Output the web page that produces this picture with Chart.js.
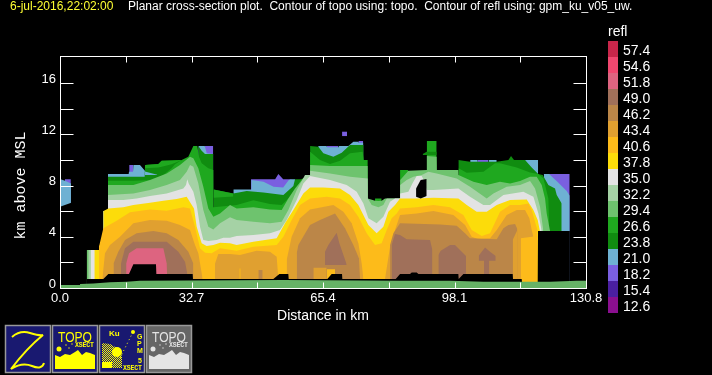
<!DOCTYPE html>
<html><head><meta charset="utf-8">
<style>html,body{margin:0;padding:0;background:#000;width:712px;height:375px;overflow:hidden}
canvas{position:absolute;left:0;top:0}svg{position:absolute;left:0;top:0}</style>
<script src="https://cdn.jsdelivr.net/npm/chart.js@4"></script></head><body>
<canvas id="c" width="712" height="375"></canvas>
<svg width="712" height="375" font-family="Liberation Sans">
<defs>
<pattern id="chk" width="2" height="2" patternUnits="userSpaceOnUse"><rect width="1" height="1" fill="#ff0"/><rect x="1" y="1" width="1" height="1" fill="#ff0"/></pattern>
<g id="topo"><text x="58" y="342" font-size="14" textLength="34" lengthAdjust="spacingAndGlyphs">TOPO</text>
<text x="75" y="347" font-size="6.5" font-weight="bold" font-family="Liberation Mono" textLength="19">XSECT</text>
<path d="M55 369V355L60 357L65 354L70 355L75 352L78 350L82 355L86 352L90 353L95 355V369Z"/>
<circle cx="59" cy="349" r="2.5"/><circle cx="66" cy="345" r=".7"/><circle cx="69" cy="348" r=".7"/><circle cx="72" cy="344" r=".7"/></g>
</defs>
<rect x="5.5" y="325.5" width="45" height="47" fill="#191970" stroke="#999" stroke-width="1.5"/>
<path d="M12 337Q20 330 30 333T43 335Q27 348 11 369Q22 362 32 366T44 363" fill="none" stroke="#ff0" stroke-width="2"/>
<rect x="52.5" y="325.5" width="45" height="47" fill="#191970" stroke="#999" stroke-width="1.5"/>
<use href="#topo" fill="#ff0"/>
<rect x="99.5" y="325.5" width="45" height="47" fill="#191970" stroke="#999" stroke-width="1.5"/>
<text x="109" y="336" font-size="8" fill="#ff0" font-weight="bold">Ku</text>
<text x="137" y="339" font-size="7" fill="#ff0" font-weight="bold">G</text>
<text x="137" y="346" font-size="7" fill="#ff0" font-weight="bold">P</text>
<text x="137" y="353" font-size="7" fill="#ff0" font-weight="bold">M</text>
<text x="138" y="363" font-size="7" fill="#ff0" font-weight="bold">5</text>
<text x="123" y="370" font-size="6.5" font-weight="bold" font-family="Liberation Mono" fill="#ff0" textLength="19">XSECT</text>
<path d="M102 368V343L110 344L117 348L122 356L122 368Z" fill="url(#chk)"/><circle cx="117" cy="352" r="5" fill="#ff0"/><rect x="102" y="362" width="10" height="6" fill="#ff0"/>
<path d="M120 358L133 332" stroke="#ff0" stroke-dasharray="1 3"/><circle cx="133" cy="332" r="2" fill="#ff0"/>
<rect x="146.5" y="325.5" width="45" height="47" fill="#666" stroke="#999" stroke-width="1.5"/>
<use href="#topo" x="94" fill="#e4e4e4"/>
</svg>
<script>
// reflectivity colour key
const legendLabels=["57.4","54.6","51.8","49.0","46.2","43.4","40.6","37.8","35.0","32.2","29.4","26.6","23.8","21.0","18.2","15.4","12.6"];
const legendColors=["#c8264a","#f0476f","#dd6480","#a0705a","#bb8648","#e0a030","#fdbb1a","#fcdc0a","#e3e3e3","#a5d2a5","#6ec36e","#1fa81f","#108c10","#6eb1d3","#7a5fe0","#4a1fa0","#8a0f8f"];
const topoColor="#66b266";
const xTicksKm=16.35, xMaxKm=130.8, yMaxKm=18.125;
// each level: list of segments of [distance km, top height km]
const refl182=[
[[1.2,8.49],[2.7,8.49]],[[17.2,9.6],[18.2,9.6]],[[36,11.09],[38.1,11.09]],
[[47.5,8.49],[53.5,8.49],[54.3,8.9],[55.5,8.49],[57.6,8.49]],
[[66.3,11.09],[69.2,11.09]],[[74.2,11.48],[75.4,11.48]],[[103.8,10],[106.5,10]],[[121.6,8.9],[126.75,8.9]]];
const speck182=[[70.15,12.21],[71.39,12.21]];
const speck182Base=[11.87];
const refl210=[
[[0.16,8.49],[1.24,8.38],[2.73,8.17]],
[[11.93,8.9],[17.07,8.9],[17.16,9.09],[18.15,9.09],[18.24,9.6],[19.89,9.6],[21.22,9.12]],
[[34.4,11.09],[36,11.09],[36.5,10.52],[38.1,10.47]],
[[43.1,7.7],[47.5,7.7],[47.6,8.43],[50.6,8.3],[53.1,7.91],[55.5,7.86],[56.9,8.43],[57.6,8.49],[58.44,8.49]],
[[64.2,11.09],[66.3,11.09],[66.4,10.99],[69.2,10.99],[69.3,11.09],[71.7,11.09],[72.95,11.43],[74.2,11.43],[74.3,11.35],[75.44,11.35]],
[[102,10],[103.8,10],[103.9,9.81],[106.5,9.81],[106.6,10],[108.6,10]],
[[115.64,10],[118.9,10]],
[[120.29,8.9],[121.61,8.9],[123.68,8.3],[126,7.57],[126.75,7.21]]];
const refl238=[
[[11.93,8.69],[21.05,8.69],[21.14,9.6],[24.45,9.68],[25.28,9.94],[30.26,10]],
[[34.4,11.09],[35.23,10.73],[36.06,10.47],[38.13,10.47]],
[[38.17,7.7],[43.1,7.39],[46.42,7.57],[50.57,7.47],[55.54,7.26],[58.03,7.97],[58.44,8.49],[59.93,8.49],[62.17,8.82],[62.2,11.09],[64.24,11.04],[65.49,10.52],[67.98,10.26],[70.05,10.57],[72.12,11.17],[75.44,11.17],[75.48,10],[76.51,10]],
[[99.06,10],[101.96,9.87],[108.6,9.87],[111.5,10],[112.16,10.31],[112.9,10],[115.64,10],[117.3,9.42],[118.79,8.95],[118.87,8.9],[120.04,8.82],[121.44,8.04],[123.1,7.78],[123.52,7.26],[124.76,6.61]]];
const refl266=[
[[11.93,8.38],[18.24,8.38],[24.04,8.43],[25.7,8.82],[27.77,9.35],[28.6,9.66],[30.26,10],[31.91,10.26],[33.16,11.09],[34.15,11.09],[34.57,10.26],[35.23,9.74],[36.89,9.35],[38.13,9.22],[38.17,6.3],[43.93,6.48],[48.08,6.85],[52.22,6.56],[55.13,6.48],[57.61,7.26],[59.93,8.43],[62.17,8.82],[62.2,10.65],[64.66,10],[67.15,9.68],[69.63,9.94],[72.12,10.52],[75.27,10.65],[75.5,10],[76.51,10]],
[[78.34,7],[79.99,7]],[[84.56,9.22],[86.63,9.22]],[[91.19,11.48],[93.67,11.48]],
[[99.1,9.35],[101.14,9],[105.28,9.09],[108.18,9.74],[109.4,9.74],[113.57,9.42],[116.89,9.03],[118.96,8.9],[120.2,8.56],[120.62,8.04],[121.44,7],[121.7,4.45]]];
// pockets that sit above a stronger band
const pocket266Top=[[21.14,9.6],[24.45,9.68],[25.28,9.94],[27.77,9.97],[30.26,10]];
const pocket266Bot=[[21.14,9.35],[24.45,9.42],[25.28,9.48],[27.77,9.66],[30.26,10]];
const pocket266bTop=[[38.17,7.7],[43.1,7.39]];
const pocket266bBot=[[38.17,7.05],[43.1,7.15]];
const pocket210Top=[[21.14,9.1],[24.2,8.85]];
const pocket210Bot=[[21.14,8.82],[24.2,8.82]];
const pocket238Top=[[90.19,10.47],[91.19,10.65],[93.67,10.65]];
const pocket238Bot=[[90.19,10.4],[91.19,10.39],[93.67,10.39]];
const refl294=[[[6.63,2.97],[9.7,2.97],[9.95,3.36],[10.77,3.36],[10.82,6.01],[11.85,6.01],[11.93,8.04],[18.24,8.04],[22.38,8.43],[26.53,8.95],[29.84,9.6],[32.33,10.26],[33.16,10.13],[34.4,9.35],[35.64,7.91],[36.89,6.22],[38.13,5.57],[39.79,5.83],[42.28,6.48],[43.93,6.22],[48.08,6.3],[52.22,6.14],[55.13,6.09],[56.78,7],[58.44,7.78],[60.51,8.56],[62.17,8.82],[62.2,9.6],[67.15,9.53],[72.12,9.53],[76.51,9.53],[76.55,7],[78.34,6.82],[79.17,6.79],[79.99,6.82],[80.82,7],[84.56,7],[84.6,8.43],[86.63,9.16],[91.19,9.22],[91.23,10.31],[93.67,10.26],[93.71,9.22],[99.06,9.22],[99.1,8.82],[102.8,8.3],[106.11,8.04],[109.4,8.3],[111.91,8.17],[114.4,8.36],[116.89,8.69],[118.54,8.69],[119.79,8.04],[120.62,7],[121.03,5.83],[121.86,4.45]]];
const refl322=[[[7.04,2.97],[9.7,2.97],[9.95,3.36],[10.77,3.36],[10.82,6.01],[11.85,6.01],[11.93,7.26],[18.24,7.39],[22.38,7.65],[26.53,8.04],[29.84,8.43],[31.5,9.09],[32.33,9.6],[33.16,9.48],[34.4,8.17],[35.64,6.09],[36.89,4.79],[38.13,4.58],[39.79,5.05],[42.28,5.52],[43.93,5.31],[48.08,5.18],[52.22,5.05],[55.13,5.18],[56.78,6.09],[58.86,7.65],[60.93,8.82],[62.17,8.82],[62.2,9.16],[67.15,8.95],[72.12,8.69],[76.51,8.56],[76.55,7],[77.51,6.48],[79.17,6.3],[80.41,6.48],[81.24,7],[84.56,7],[84.6,8.04],[86.21,8.43],[87.87,8.69],[89.94,8.82],[91.6,9.09],[93.67,8.95],[98.65,8.56],[101.96,7.91],[106.11,7],[107.77,7.39],[111.08,7.91],[114.4,8.04],[116.89,8.36],[118.13,7.78],[119.37,6.35],[120.2,4.45]]];
const refl350=[[[7.62,2.97],[9.7,2.97],[9.95,3.36],[10.77,3.36],[10.82,6.01],[11.85,6.01],[11.93,6.87],[15.75,6.87],[19.06,7],[22.38,7.18],[26.53,7.39],[30.67,7.78],[31.33,8.04],[31.66,8.49],[32,8.17],[33.16,7.52],[33.99,6.48],[34.82,4.79],[35.64,3.75],[36.89,3.67],[38.96,3.75],[40.62,3.93],[42.28,3.93],[43.93,4.06],[48.08,4.14],[52.22,4.27],[54.71,4.53],[56.37,5.31],[58.86,6.87],[60.51,8.17],[62.17,8.75],[67.15,8.43],[71.29,8.04],[73.78,7.52],[75.44,6.61],[76.68,5.44],[78.75,5.05],[80.41,5.57],[82.07,6.74],[83.31,7],[84.56,7],[84.6,7.39],[86.63,7.52],[87.63,8.17],[88.7,8.75],[89.94,8.75],[90.36,8.49],[91.19,7.65],[92.84,7.65],[99.06,7.78],[101.96,7.13],[105.28,6.48],[106.94,6.48],[110.26,7.26],[115.23,7.52],[117.72,7.13],[118.96,5.83],[119.79,4.45]]];
const refl378=[[[8.54,2.97],[9.7,2.97],[9.95,3.36],[10.77,3.36],[10.82,6.01],[12.02,6.22],[15.75,6.3],[18.24,6.48],[22.38,6.66],[25.7,6.82],[29.01,6.95],[31.5,7.13],[33.32,6.22],[33.99,4.79],[35.23,3.49],[36.47,3.28],[38.13,3.36],[39.79,3.54],[42.28,3.49],[43.93,3.36],[48.08,3.62],[53.88,3.88],[55.95,5.05],[58.03,6.09],[60.51,7.39],[62.17,7.86],[65.49,7.86],[69.63,7.78],[72.12,7.26],[74.19,6.48],[76.68,4.92],[78.75,4.27],[80.41,4.79],[81.65,5.96],[83.31,6.48],[84.56,7],[88.7,7],[92.84,7.05],[99.06,7],[101.14,6.48],[103.62,5.96],[106.11,5.96],[108.6,6.48],[111.91,6.87],[116.06,6.92],[117.72,6.09],[118.79,5.31],[119.37,4.4]]];
const refl406=[[[9.7,3.23],[10.77,4.66],[14.09,5.26],[17.41,5.91],[22.38,6.14],[26.53,6.04],[30.67,6.3],[32.33,6.22],[33.57,4.79],[34.82,3.1],[36.06,2.76],[37.72,2.71],[39.79,3.1],[43.93,2.91],[48.08,3.23],[53.88,3.36],[55.54,4.01],[57.61,5.31],[59.69,6.48],[62.17,7],[66.32,7.13],[69.63,7],[72.12,6.48],[74.19,5.57],[76.27,4.27],[78.34,3.36],[79.99,3.49],[81.24,4.53],[82.48,5.44],[83.73,5.83],[84.56,6.22],[88.7,6.3],[92.84,6.48],[96.99,6.3],[100.31,5.7],[102.38,4.53],[104.87,4.06],[106.94,4.27],[109.42,5.96],[111.91,6.48],[114.4,6.48],[116.47,6.61],[117.3,6.09],[118.13,5.18],[118.71,4.53],[118.79,4.06]]];
const refl434=[
[[10.53,0.7],[11.19,2.71],[12.43,3.36],[14.92,4.01],[18.24,5.05],[22.38,5.31],[26.53,5.26],[29.84,4.92],[32.33,4.53],[33.57,3.36],[34.4,2.71],[35.48,0.7]],
[[38.55,1.92],[39.37,2.65],[42.28,2.65],[44.76,2.57],[48.91,2.91],[52.22,2.84],[53.88,2.45],[54.3,0.7]],
[[56.37,2.18],[57.61,4.01],[59.69,5.44],[62.17,6.14],[67.98,6.48],[70.46,5.96],[72.53,5.05],[74.19,3.49],[75.02,1.92],[75.44,0.7]],
[[80.82,0.7],[82.07,3.23],[83.31,4.53],[84.56,5.7],[88.7,5.83],[92.84,6.01],[97.82,5.7],[100.72,4.92],[102.38,4.01],[104.04,3.8],[106.94,3.88],[108.6,4.53],[111.08,5.7],[113.57,6.09],[115.64,6.09],[116.72,5.44],[117.3,4.53],[117.72,4]]];
const refl462=[
[[13.3,1.92],[14.5,2.84],[16.16,3.75],[19.06,4.27],[23.21,4.45],[26.53,4.27],[29.43,3.75],[31.91,2.84],[33.16,1.92]],
[[49.32,1.4],[50.4,1.4]],
[[58.86,2.71],[59.27,3.36],[62.17,4.92],[64.66,5.31],[68.39,5.83],[70.88,4.66],[72.95,3.36],[74.36,2.31],[74.61,0.7]],
[[82.07,3.36],[82.9,4.27],[84.56,5.05],[94.5,4.97],[98.65,4.87],[100.72,4.27],[101.96,3.88],[108.6,3.8],[110.26,4.66],[111.5,4.92],[113.16,5],[113.73,4.61]]];
// patches of weaker echo inside a stronger band
const patch434=[[[112.57,3.75],[113.73,4.53]],[[63,1.59],[66.32,1.59]]];
const patch406=[[[114.57,3.88],[118.79,4.06]],[[44.6,1.53],[44.93,1.53]],[[66.32,1.46],[68.4,1.46]]];
const refl490=[
[[15.17,1.92],[16.16,3.1],[18.24,3.62],[26.53,3.62],[29.43,2.84],[31.08,2.05],[31.66,1.09]],
[[82.48,3.36],[83.31,4.22],[84.56,4.14],[86.21,3.8],[92.02,3.75],[92.6,2.97]],
[[94.09,2.57],[94.67,2.91],[96.99,3.36],[98.23,3.36],[99.47,2.97],[100.96,2.5]],
[[105.44,2.3],[106.77,2.3]]];
const island490A=[[65.9,2.84],[66.73,3.36],[68.8,4.32],[69.47,3.49],[70.05,2.97],[71.29,1.84]];
const island490ABase=[1.79];
const island490B=[[104.12,2.52],[104.87,2.84],[105.69,3.17],[106.94,2.84],[108.35,2.5]];
const island490BBase=[2.13];
const refl518=[[[16.45,1.92],[17.16,2.71],[19.06,3.1],[25.7,3.1],[26.53,1.92],[26.61,1.09]]];
// no-echo region beneath the radar data
const noEcho=[
[[0,6.35],[2.8,6.66]],
[[6.6,0.7],[10.77,0.7],[12.02,1.09],[17.16,1.09],[18.24,1.85],[23.87,1.85],[23.96,1.09],[32.99,1.09],[33.07,0.7],[53.05,0.7],[54.55,1.09],[56.78,1.09],[56.87,0.7],[66.48,0.7],[67.56,1.09],[70.13,1.09],[70.21,0.7],[83.48,0.7],[84.56,1.09],[87.04,1.09],[87.46,1.22],[88.7,1.22],[89.12,1.09],[99.06,1.09],[99.14,0.7],[100.31,1.09],[112.57,1.09],[112.65,0.7],[114.81,0.7],[114.9,0.41],[118.79,0.41],[118.87,4.45],[126.8,4.45]]];
const holeTop=[[88.54,7.78],[89.69,8.43],[91.19,8.51]];
const holeBot=[[88.54,7.13],[89.69,7],[91.19,7.18]];
const topo=[[0,0.23],[4.97,0.23],[5.01,0.31],[8.29,0.36],[12.43,0.44],[16.58,0.49],[19.89,0.57],[55.54,0.62],[84.56,0.57],[96.99,0.57],[105.28,0.49],[113.57,0.49],[121.86,0.49],[128.5,0.57],[130.8,0.57]];

const col=l=>legendColors[legendLabels.indexOf(l)];
const paint=[];
function band(data,color,fill){paint.push({data,backgroundColor:color,borderWidth:0,pointRadius:0,tension:0,fill:fill===undefined?"origin":fill,spanGaps:false});}
function bands(list,color){list.forEach(s=>band(s,color));}
function between(t,b,color){band(t,color,"+1");band(b,"rgba(0,0,0,0)",false);}
bands(refl182,col("18.2"));
band(speck182,col("18.2"),{value:speck182Base[0]});
bands(refl210,col("21.0"));
bands(refl238,col("23.8"));
bands(refl266,col("26.6"));
between(pocket266Top,pocket266Bot,col("26.6"));
between(pocket266bTop,pocket266bBot,col("26.6"));
between(pocket210Top,pocket210Bot,col("21.0"));
between(pocket238Top,pocket238Bot,col("23.8"));
bands(refl294,col("29.4"));
bands(refl322,col("32.2"));
bands(refl350,col("35.0"));
bands(refl378,col("37.8"));
bands(refl406,col("40.6"));
bands(refl434,col("43.4"));
bands(refl462,col("46.2"));
bands(patch434,col("43.4"));
bands(patch406,col("40.6"));
bands(refl490,col("49.0"));
band(island490A,col("49.0"),{value:island490ABase[0]});
band(island490B,col("49.0"),{value:island490BBase[0]});
bands(refl518,col("51.8"));
bands(noEcho,"#000");
between(holeTop,holeBot,"#000");
band(topo,topoColor);
paint.forEach((d,i)=>{d.order=paint.length-i;});

const frame={id:"frame",afterDatasetsDraw(ch){
 const g=ch.ctx,a=ch.chartArea,xs=ch.scales.x,ys=ch.scales.y;
 g.save();g.strokeStyle="#fff";g.lineWidth=1;
 const L=Math.round(a.left)+.5,R=Math.round(a.right)+.5,T=Math.round(a.top)+.5,B=Math.round(a.bottom)+.5;
 g.strokeRect(L,T,R-L,B-T);g.beginPath();
 xs.ticks.forEach(t=>{const p=Math.round(xs.getPixelForValue(t.value))+.5;g.moveTo(p,T);g.lineTo(p,T+6);g.moveTo(p,B);g.lineTo(p,B-6);});
 ys.ticks.forEach(t=>{if(t.value>16||t.value===0)return;const p=Math.round(ys.getPixelForValue(t.value))+.5;g.moveTo(L,p);g.lineTo(L+13,p);g.moveTo(R,p);g.lineTo(R-13,p);});
 g.stroke();
 g.textBaseline="middle";g.textAlign="left";
 g.font="12px 'Liberation Sans'";
 g.fillStyle="#ffff33";g.fillText("6-jul-2016,22:02:00",10,7);
 g.fillStyle="#fff";g.fillText("Planar cross-section plot.  Contour of topo using: topo.  Contour of refl using: gpm_ku_v05_uw.",128,7);
 g.font="14px 'Liberation Sans'";
 g.fillText("refl",608,32);
 legendLabels.forEach((l,i)=>{g.fillStyle=legendColors[i];g.fillRect(608,41+16*i,10,16);g.fillStyle="#fff";g.fillText(l,623,51+16*i);});
 g.restore();
}};
new Chart(document.getElementById("c"),{type:"line",data:{datasets:paint},plugins:[frame],options:{
 responsive:false,animation:false,events:[],
 layout:{padding:{top:56,right:126,bottom:50,left:0}},
 plugins:{legend:{display:false},title:{display:false},tooltip:{enabled:false}},
 scales:{
  x:{type:"linear",min:0,max:xMaxKm,afterFit(s){s.height=37;},border:{display:false},grid:{display:false,drawTicks:false},
   afterBuildTicks(s){const t=[];for(let i=0;i<=8;i++)t.push({value:i*xTicksKm});s.ticks=t;},
   ticks:{color:"#fff",font:{family:"Liberation Sans",size:13},padding:3,autoSkip:false,maxRotation:0,callback(v,i){return i%2===0?v.toFixed(1):"";}},
   title:{display:true,text:"Distance in km",color:"#fff",font:{family:"Liberation Sans",size:14},padding:{top:0,bottom:0}}},
  y:{type:"linear",min:0,max:yMaxKm,afterFit(s){s.width=60;},border:{display:false},grid:{display:false,drawTicks:false},
   ticks:{color:"#fff",font:{family:"Liberation Sans",size:13},padding:4,stepSize:2,labelOffset:-4,autoSkip:false,callback(v){return(v<=16&&v%4===0)?String(v):"";}},
   title:{display:true,text:"km above MSL   ",color:"#fff",font:{family:"Liberation Mono",size:15},padding:{top:12,bottom:0}}}
 }}});
</script></body></html>
